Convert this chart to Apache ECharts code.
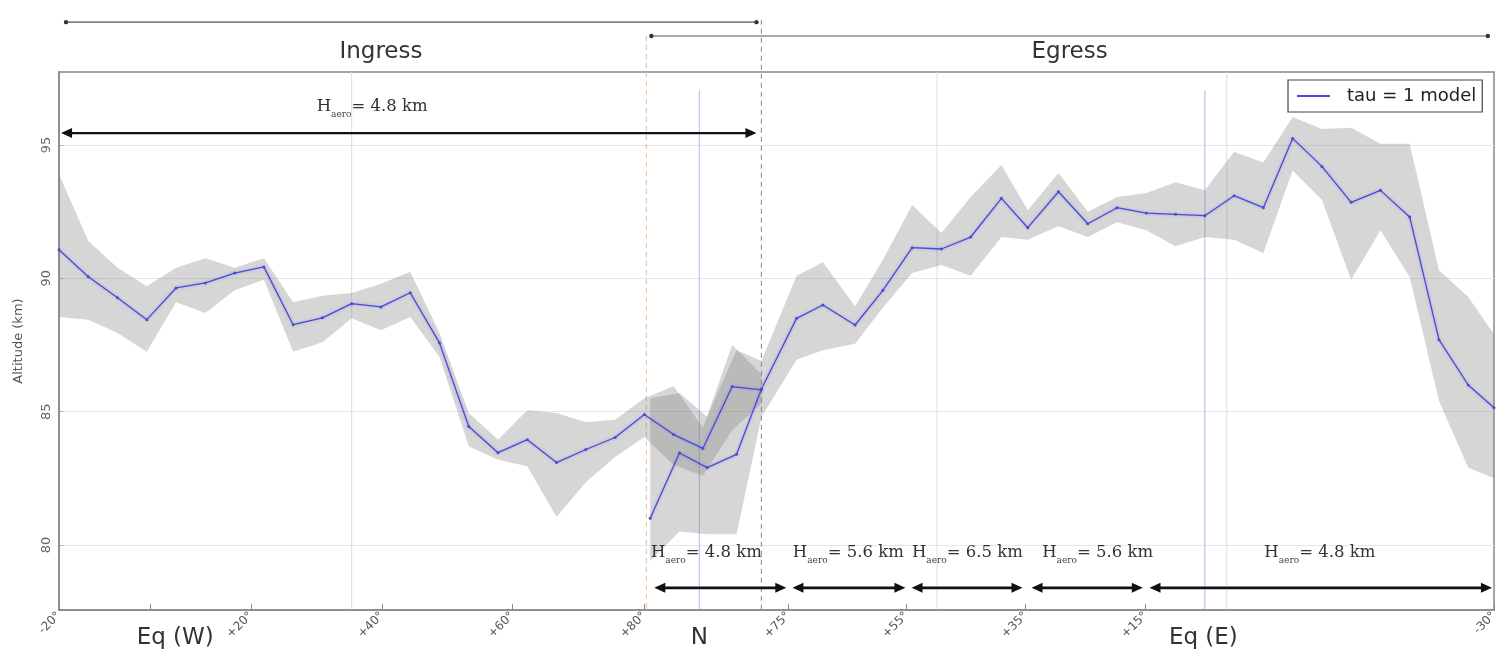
<!DOCTYPE html>
<html><head><meta charset="utf-8">
<script src="https://cdn.jsdelivr.net/npm/echarts@6/dist/echarts.min.js"></script>
<style>html,body{margin:0;padding:0;background:#fff}#c{width:1508px;height:655px}</style>
</head><body><div id="c"></div>
<script>
// ---- data (track position along the occultation chord, altitude in km) ----
const ingressT = [0,1,2,3,4,5,6,7,8,9,10,11,12,13,14,15,16,17,18,19,20,21,22,23,24];
const ingressAlt = [91.07,90.06,89.27,88.45,89.64,89.83,90.2,90.43,88.26,88.52,89.05,88.93,89.46,87.58,84.44,83.46,83.95,83.09,83.58,84.03,84.89,84.14,83.62,85.94,85.82];
const ingressLo = [88.55,88.45,87.95,87.25,89.1,88.7,89.55,89.95,87.25,87.6,88.5,88.05,88.55,87.05,83.7,83.2,82.95,81.05,82.35,83.3,84.05,83.0,82.6,84.3,85.3];
const ingressHi = [93.9,91.4,90.4,89.7,90.4,90.75,90.4,90.75,89.1,89.35,89.45,89.8,90.25,87.95,84.95,83.95,85.05,84.95,84.6,84.7,85.5,85.95,84.4,87.5,86.4];

const egressT = [20.2,21.2,22.15,23.15,24.0,25.2,26.1,27.2,28.15,29.15,30.15,31.15,32.2,33.1,34.15,35.15,36.15,37.15,38.15,39.15,40.15,41.15,42.15,43.15,44.15,45.15,46.15,47.15,48.15,49.03];
const egressAlt = [81.0,83.45,82.9,83.4,85.85,88.5,89.0,88.25,89.55,91.15,91.1,91.55,93.0,91.9,93.25,92.05,92.65,92.45,92.4,92.35,93.1,92.65,95.25,94.2,92.85,93.3,92.3,87.7,86.0,85.15];
const egressLo = [79.4,80.5,80.4,80.4,84.8,86.95,87.3,87.55,88.9,90.2,90.5,90.1,91.55,91.45,91.95,91.55,92.1,91.8,91.2,91.55,91.45,90.95,94.05,92.95,89.95,91.8,90.05,85.4,82.9,82.5];
const egressHi = [85.5,85.7,84.8,87.3,86.9,90.1,90.6,88.95,90.7,92.75,91.7,93.05,94.25,92.55,93.95,92.5,93.05,93.2,93.6,93.3,94.75,94.35,96.05,95.6,95.65,95.05,95.05,90.3,89.3,87.9];

// axis ticks
const xTickPos = [0,3.11,6.56,11.04,15.49,20.0,24.92,28.96,33.03,37.13,49.03];
const xTickText = ['-20°','','+20°','+40°','+60°','+80°','+75°','+55°','+35°','+15°','-30°'];
const regionPos = [3.97,21.88,39.1];
const regionText = ['Eq (W)','N','Eq (E)'];
const yTicks = [80,85,90,95];

// annotations (data units)
const hAeroFrom = [20.34,25.06,29.13,33.23,37.26];
const hAeroTo = [24.85,28.92,32.92,37.03,48.96];
const hAeroLabelT = [22.12,26.97,31.04,35.49,43.08];
const hAeroKm = ['4.8','5.6','6.5','5.6','4.8'];
const ingressArrow = {from:0.07, to:23.83, alt:95.45, labelT:10.7, labelAlt:96.42, km:'4.8'};
const phaseNames = ['Ingress','Egress'];
const phaseFrom = [0.24,20.24];
const phaseTo = [23.83,48.82];
const phaseBarAlt = [99.61,99.09];
const phaseLabelT = [11.0,34.53];
const phaseLabelAlt = 98.49;
const faintV = [10,30,39.9];
const blueV = [21.88,39.15];
const blueVTop = 97.06;
const orangeDashT = 20.07, orangeDashTop = 99.09;
const grayDashT = 24.0, grayDashTop = 99.7;

const X_MIN = 0, X_MAX = 49.03, Y_MIN = 77.56, Y_MAX = 97.74;
const LINE = '#4a4ad8';

function band(name, T, lo, hi) {
  return {
    type:'custom', name, silent:true, z:1,
    data: T.map((t,i)=>[t, lo[i], hi[i]]),
    encode:{x:0, y:[1,2]},
    renderItem(params, api) {
      if (params.dataIndex !== 0) return;
      const pts = [];
      for (let i=0;i<T.length;i++) pts.push(api.coord([T[i], hi[i]]));
      for (let i=T.length-1;i>=0;i--) pts.push(api.coord([T[i], lo[i]]));
      return {type:'polygon', shape:{points:pts}, style:{fill:'rgba(128,128,128,0.32)'}};
    }
  };
}
function lineS(T, A) {
  return {
    type:'line', name:'tau = 1 model', z:3,
    data: T.map((t,i)=>[t, A[i]]),
    symbol:'circle', symbolSize:3, showSymbol:true,
    itemStyle:{color:LINE},
    lineStyle:{color:LINE, width:1.3, shadowBlur:3, shadowColor:'rgba(90,90,230,0.45)'},
    emphasis:{disabled:true}, animation:false
  };
}
function nearest(arr, v){ let b=0; for(let i=1;i<arr.length;i++) if (Math.abs(arr[i]-v)<Math.abs(arr[b]-v)) b=i; return b; }

const chart = echarts.init(document.getElementById('c'), null, {renderer:'canvas'});
chart.setOption({
  animation:false,
  backgroundColor:'#fff',
  textStyle:{fontFamily:'DejaVu Sans'},
  grid:{left:59, right:14, top:72, bottom:45, show:true, borderColor:'#888', borderWidth:1.5, backgroundColor:'transparent'},
  legend:{
    data:[{name:'tau = 1 model', icon:'rect'}],
    left:1288, top:80, itemWidth:33, itemHeight:2,
    padding:[7,6,7,9], borderColor:'#444', borderWidth:1.2, backgroundColor:'#fff',
    textStyle:{fontSize:18, color:'#222', fontFamily:'DejaVu Sans', padding:[0,0,0,12]}
  },
  xAxis:[{
    type:'value', min:X_MIN, max:X_MAX,
    axisLine:{show:true, lineStyle:{color:'#888', width:1.5}},
    axisTick:{show:true, inside:true, length:6, customValues:xTickPos, lineStyle:{color:'#888'}},
    axisLabel:{customValues:xTickPos, rotate:45, fontSize:12, color:'#555', margin:4,
      formatter:v=>xTickText[nearest(xTickPos, v)]},
    splitLine:{show:false}
  },{
    type:'value', min:X_MIN, max:X_MAX, position:'bottom',
    axisLine:{show:false}, axisTick:{show:false}, splitLine:{show:false},
    axisLabel:{customValues:regionPos, fontSize:23, color:'#333', margin:17,
      formatter:v=>regionText[nearest(regionPos, v)]}
  }],
  yAxis:{
    type:'value', min:Y_MIN, max:Y_MAX,
    name:'Altitude (km)', nameLocation:'middle', nameGap:34, nameRotate:90,
    nameTextStyle:{fontSize:13, color:'#555'},
    axisLine:{show:true, lineStyle:{color:'#888', width:1.5}},
    axisTick:{show:true, inside:true, length:4, customValues:yTicks, lineStyle:{color:'#aaa'}},
    axisLabel:{customValues:yTicks, rotate:90, fontSize:13, color:'#666', margin:6},
    splitLine:{show:true, lineStyle:{color:'#e6e6e6', width:1}}
  },
  series:[
    band('ingress band', ingressT, ingressLo, ingressHi),
    band('egress band', egressT, egressLo, egressHi),
    lineS(ingressT, ingressAlt),
    lineS(egressT, egressAlt)
  ]
});

// ---- annotations placed through the axes' own scales ----
const P = (t, v) => chart.convertToPixel({xAxisIndex:0, yAxisIndex:0}, [t, v]);
const g = [];
function vline(t, top, color, dash, w) {
  const a = P(t, top), b = P(t, Y_MIN);
  g.push({type:'line', z:0, silent:true, shape:{x1:a[0], y1:a[1], x2:b[0], y2:b[1]},
    style:{stroke:color, lineWidth:w||1, lineDash:dash||null}});
}
faintV.forEach(t=>vline(t, Y_MAX, '#dcdcdc'));
blueV.forEach(t=>vline(t, blueVTop, '#c4c4ee', null, 1.3));
vline(orangeDashT, orangeDashTop, '#f3c39a', [5,4], 1.2);
vline(grayDashT, grayDashTop, '#9a9a9a', [5,4], 1.2);

function dArrow(t1, t2, alt, w) {
  const a = P(t1, alt), b = P(t2, alt);
  const hl = 11, hw = 5;
  g.push({type:'line', z:5, silent:true, shape:{x1:a[0]+hl-1, y1:a[1], x2:b[0]-hl+1, y2:b[1]}, style:{stroke:'#111', lineWidth:w}});
  g.push({type:'polygon', z:5, silent:true, shape:{points:[[a[0],a[1]],[a[0]+hl,a[1]-hw],[a[0]+hl,a[1]+hw]]}, style:{fill:'#111'}});
  g.push({type:'polygon', z:5, silent:true, shape:{points:[[b[0],b[1]],[b[0]-hl,b[1]-hw],[b[0]-hl,b[1]+hw]]}, style:{fill:'#111'}});
}
function hLabel(t, alt, km) {
  const p = P(t, alt);
  g.push({type:'text', z:5, silent:true, x:p[0], y:p[1], style:{
    text:'{h|H}{s|aero}{v|= ' + km + ' km}', align:'center', verticalAlign:'middle',
    rich:{
      h:{fontFamily:'DejaVu Serif', fontSize:16.5, fill:'#333', lineHeight:24, verticalAlign:'middle'},
      s:{fontFamily:'DejaVu Serif', fontSize:9, fill:'#444', lineHeight:24, verticalAlign:'bottom'},
      v:{fontFamily:'DejaVu Serif', fontSize:16.5, fill:'#333', lineHeight:24, verticalAlign:'middle'}
    }}});
}
dArrow(ingressArrow.from, ingressArrow.to, ingressArrow.alt, 2.2);
hLabel(ingressArrow.labelT, ingressArrow.labelAlt, ingressArrow.km);
for (let i=0;i<hAeroFrom.length;i++) {
  dArrow(hAeroFrom[i], hAeroTo[i], 78.39, 2.6);
  hLabel(hAeroLabelT[i], 79.7, hAeroKm[i]);
}
for (let i=0;i<phaseNames.length;i++) {
  const a = P(phaseFrom[i], phaseBarAlt[i]), b = P(phaseTo[i], phaseBarAlt[i]);
  g.push({type:'line', silent:true, shape:{x1:a[0], y1:a[1], x2:b[0], y2:b[1]}, style:{stroke:'#555', lineWidth:1.2}});
  g.push({type:'circle', silent:true, shape:{cx:a[0], cy:a[1], r:2.2}, style:{fill:'#333'}});
  g.push({type:'circle', silent:true, shape:{cx:b[0], cy:b[1], r:2.2}, style:{fill:'#333'}});
  const p = P(phaseLabelT[i], phaseLabelAlt);
  g.push({type:'text', silent:true, x:p[0], y:p[1], style:{text:phaseNames[i], align:'center', verticalAlign:'middle',
    fontFamily:'DejaVu Sans', fontSize:23, fill:'#333'}});
}
chart.setOption({graphic:g});
</script></body></html>
